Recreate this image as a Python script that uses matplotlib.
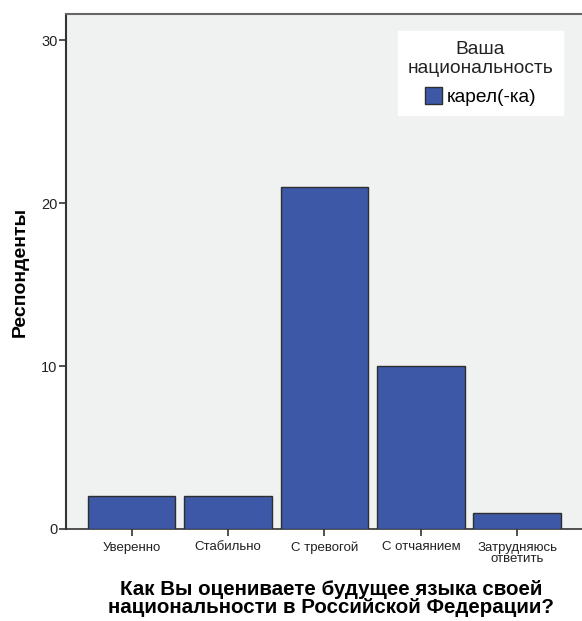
import matplotlib
matplotlib.use("Agg")
import matplotlib.pyplot as plt
from matplotlib.patches import Patch

plt.rcParams['font.family'] = ['Liberation Sans', 'DejaVu Sans']

categories = ["Уверенно", "Стабильно", "С тревогой", "С отчаянием", "Затрудняюсь\nответить"]
values = [2, 2, 21, 10, 1]
yticks = [0, 10, 20, 30]

fig = plt.figure(figsize=(5.82, 6.21), dpi=100)
ax = fig.add_axes([66/582, (621-529)/621, (582-66)/582, (529-14)/621])
ax.set_facecolor('#F0F1F1')

x = list(range(len(categories)))
ax.bar(x, values, width=0.91, color='#3E58A8', edgecolor='#2E2E2E', linewidth=1.0, zorder=3)

ax.set_xlim(-0.68, 4.67)
ax.set_ylim(0, 31.6)
ax.set_yticks(yticks)
ax.set_xticks(x)
ax.set_xticklabels(categories, fontsize=9.5, linespacing=0.95)
ax.tick_params(axis='y', labelsize=10.5, length=5, width=1.2, color='#333333', pad=1, labelcolor='#222222')
ax.tick_params(axis='x', length=5, width=1.2, color='#333333', pad=4, labelcolor='#222222')

for s in ['right']:
    ax.spines[s].set_visible(False)
ax.spines['left'].set_color('#333333')
ax.spines['left'].set_linewidth(1.5)
ax.spines['bottom'].set_color('#333333')
ax.spines['bottom'].set_linewidth(1.2)
ax.spines['top'].set_color('#666666')
ax.spines['top'].set_linewidth(1.5)

ax.set_ylabel("Респонденты", fontsize=14, fontweight='bold', labelpad=9)
ax.set_xlabel("Как Вы оцениваете будущее языка своей\nнациональности в Российской Федерации?",
              fontsize=14.8, fontweight='bold', labelpad=11, linespacing=0.9)
ax.xaxis.label.set_x((331-66)/516)

handles = [Patch(facecolor='#3E58A8', edgecolor='#2E2E2E', label='карел(-ка)')]
leg = ax.legend(handles=handles, title="Ваша\nнациональность", loc='upper right',
                bbox_to_anchor=((563-66)/516, (529-31)/515), fontsize=13.8, title_fontsize=13.8,
                frameon=True, fancybox=False, edgecolor='white', framealpha=1,
                handlelength=0.9, handleheight=1.0, handletextpad=0.2, borderpad=0.5,
                borderaxespad=0)
leg.get_title().set_multialignment('center')
leg.get_title().set_color('#222222')

fig.savefig("out.png", dpi=100)
